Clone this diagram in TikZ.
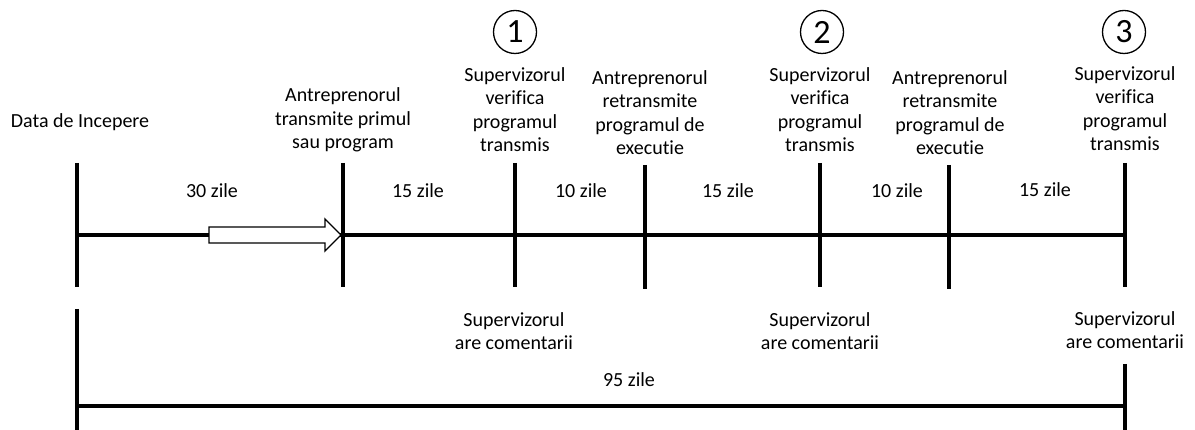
\documentclass[tikz,border=0pt]{standalone}
\usepackage{fontspec}
\setmainfont{Carlito}[Ligatures=NoCommon]
\begin{document}
\begin{tikzpicture}[x=1pt,y=-1pt,
  bar/.style={line width=3.5pt},
  lbl/.style={align=center,font=\fontsize{20}{23.5}\selectfont,inner sep=0pt,anchor=base},
  num/.style={circle,draw,line width=1.3pt,minimum size=43pt,inner sep=0pt,font=\fontsize{34}{34}\selectfont}]
\useasboundingbox (0,0) rectangle (1195,430);
%Time axis
\draw[bar] (77,235) -- (1125,235);
%Milestones
\foreach \x/\t/\b in {77/163/287,343/163/287,515/163/287,645/165/289,820/163/287,949/165/289,1125/163/287}
  \draw[bar] (\x,\t) -- (\x,\b);
%Submission arrow
\draw[line width=1.4pt,fill=white] (209,227) -- (325,227) -- (325,219) -- (341,235) -- (325,251) -- (325,243) -- (209,243) -- cycle;
%Total span
\draw[bar] (77,309) -- (77,430);
\draw[bar] (1125,364) -- (1125,430);
\draw[bar] (77,406) -- (1125,406);
%Circled steps
\node[num] (c1) at (515,32) {1};
\node[num] (c2) at (822,32) {2};
\node[num] (c3) at (1124,32) {3};
%Events (anchored at last baseline)
\node[lbl] (start) at (80,128) {Data de Incepere};
\node[lbl] (send) at (343,149) {Antreprenorul\\transmite primul\\sau program};
\node[lbl] (chk1) at (515,152) {Supervizorul\\verifica\\programul\\transmis};
\node[lbl] (resend1) at (650,155) {Antreprenorul\\retransmite\\programul de\\executie};
\node[lbl] (chk2) at (820,152) {Supervizorul\\verifica\\programul\\transmis};
\node[lbl] (resend2) at (950,155) {Antreprenorul\\retransmite\\programul de\\executie};
\node[lbl] (chk3) at (1125,151) {Supervizorul\\verifica\\programul\\transmis};
%Durations
\node[lbl] (d1) at (212,198) {30 zile};
\node[lbl] (d2) at (418,198) {15 zile};
\node[lbl] (d3) at (581,198) {10 zile};
\node[lbl] (d4) at (728,198) {15 zile};
\node[lbl] (d5) at (897,198) {10 zile};
\node[lbl] (d6) at (1045,197) {15 zile};
%Comments
\node[lbl] (com1) at (514,350) {Supervizorul\\are comentarii};
\node[lbl] (com2) at (820,350) {Supervizorul\\are comentarii};
\node[lbl] (com3) at (1125,349) {Supervizorul\\are comentarii};
\node[lbl] (total) at (629,387) {95 zile};
\end{tikzpicture}
\end{document}
